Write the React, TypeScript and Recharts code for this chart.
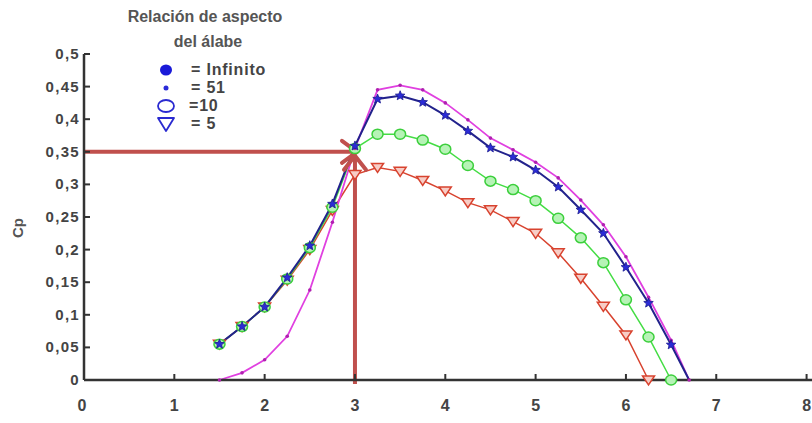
import React from 'react';
import { LineChart, Line, XAxis, YAxis, ReferenceLine, Legend } from 'recharts';

const xTicks = [0, 1, 2, 3, 4, 5, 6, 7, 8];
const yTicks = [0, 0.05, 0.1, 0.15, 0.2, 0.25, 0.3, 0.35, 0.4, 0.45, 0.5];
const yTickLabels = ['0', '0,05', '0,1', '0,15', '0,2', '0,25', '0,3', '0,35', '0,4', '0,45', '0,5'];

const legendTitle = ['Relación de aspecto', 'del álabe'];
const legendLabels = ['= Infinito', '= 51', '=10', '= 5'];

// relación de velocidad en punta (x) y Cp (y), una lista por curva
const tsrInfinito = [1.5, 1.75, 2, 2.25, 2.5, 2.75, 3, 3.25, 3.5, 3.75, 4, 4.25, 4.5, 4.75, 5, 5.25, 5.5, 5.75, 6, 6.25, 6.5, 6.7];
const cpInfinito = [0, 0.011, 0.031, 0.067, 0.138, 0.242, 0.355, 0.445, 0.452, 0.445, 0.425, 0.399, 0.371, 0.353, 0.334, 0.31, 0.276, 0.238, 0.189, 0.127, 0.061, 0];

const tsr51 = [1.5, 1.75, 2, 2.25, 2.5, 2.75, 3, 3.25, 3.5, 3.75, 4, 4.25, 4.5, 4.75, 5, 5.25, 5.5, 5.75, 6, 6.25, 6.5, 6.7];
const cp51 = [0.055, 0.082, 0.112, 0.157, 0.206, 0.27, 0.359, 0.431, 0.436, 0.426, 0.406, 0.382, 0.356, 0.342, 0.322, 0.296, 0.261, 0.225, 0.173, 0.118, 0.054, 0];

const tsr10 = [1.5, 1.75, 2, 2.25, 2.5, 2.75, 3, 3.25, 3.5, 3.75, 4, 4.25, 4.5, 4.75, 5, 5.25, 5.5, 5.75, 6, 6.25, 6.5];
const cp10 = [0.055, 0.082, 0.112, 0.155, 0.203, 0.265, 0.355, 0.377, 0.377, 0.368, 0.354, 0.329, 0.305, 0.292, 0.275, 0.248, 0.218, 0.18, 0.123, 0.066, 0];

const tsr5 = [1.5, 1.75, 2, 2.25, 2.5, 2.75, 3, 3.25, 3.5, 3.75, 4, 4.25, 4.5, 4.75, 5, 5.25, 5.5, 5.75, 6, 6.25];
const cp5 = [0.055, 0.082, 0.112, 0.153, 0.2, 0.26, 0.315, 0.326, 0.32, 0.306, 0.29, 0.272, 0.261, 0.243, 0.225, 0.195, 0.156, 0.113, 0.069, 0];

const markX = 3;
const markCp = 0.35;

const toRows = (xs: number[], ys: number[]) => xs.map((x, i) => ({ x, cp: ys[i] }));

const FONT = '"Liberation Sans", Arial, sans-serif';
const TEXT = '#444';
const AXIS = '#333';
const ARROW = '#c0504d';

const YTick = (props: any) => {
  const { x, y, index } = props;
  return (
    <g>
      <line x1={x} x2={x + 6} y1={y} y2={y} stroke={AXIS} strokeWidth={2} />
      <text x={x - 4} y={y} dy={5} textAnchor="end" fontSize={15} fontWeight="bold" fill={TEXT}
        fontFamily={FONT} letterSpacing={1.3}>
        {yTickLabels[index]}
      </text>
    </g>
  );
};

const XTick = (props: any) => {
  const { x, y, payload } = props;
  return (
    <g>
      {payload.value > 0 && <line x1={x} x2={x} y1={y} y2={y - 6} stroke={AXIS} strokeWidth={2} />}
      <text x={payload.value === 0 ? x - 2 : x} y={y + 31} textAnchor="middle" fontSize={16} fontWeight="bold"
        fill={TEXT} fontFamily={FONT}>
        {payload.value}
      </text>
    </g>
  );
};

const cpLabel = (props: any) => {
  const { viewBox } = props;
  const cx = viewBox.x + 17;
  const cy = viewBox.y + viewBox.height / 2 + 11;
  return (
    <text x={cx} y={cy} transform={`rotate(-90 ${cx} ${cy})`} textAnchor="middle" dominantBaseline="central"
      fontSize={15} fontWeight="bold" fill="#555" fontFamily={FONT}>
      Cp
    </text>
  );
};

const starDot = (props: any) => {
  const { cx, cy, index } = props;
  if (index === cp51.length - 1) return <g key={`s${index}`} />;
  const pts: string[] = [];
  for (let k = 0; k < 10; k++) {
    const r = k % 2 === 0 ? 5 : 2.2;
    const a = (Math.PI / 5) * k - Math.PI / 2;
    pts.push(`${cx + r * Math.cos(a)},${cy + r * Math.sin(a)}`);
  }
  return <polygon key={`s${index}`} points={pts.join(' ')} fill="#2b2bd6" stroke="#1a1a90" strokeWidth={0.8} />;
};

const smallDot = (props: any) => {
  const { cx, cy, index } = props;
  return <circle key={`m${index}`} cx={cx} cy={cy} r={1.8} fill="#b020b0" />;
};

const circleDot = (props: any) => {
  const { cx, cy, index } = props;
  return <ellipse key={`c${index}`} cx={cx} cy={cy} rx={5.5} ry={5} fill="#b6f3b6" stroke="#3ccf3c" strokeWidth={1.5} />;
};

const triDot = (props: any) => {
  const { cx, cy, index } = props;
  return (
    <path key={`t${index}`} d={`M${cx - 6},${cy - 4} L${cx + 6},${cy - 4} L${cx},${cy + 5} Z`}
      fill="#f7cdc6" stroke="#d8432f" strokeWidth={1.5} />
  );
};

const arrowRight = (props: any) => {
  const { x1, y1, x2, y2 } = props;
  return (
    <g>
      <line x1={x1} y1={y1} x2={x2} y2={y2} stroke={ARROW} strokeWidth={4} />
      <path d={`M${x2 - 13},${y2 - 11} L${x2 + 2},${y2} L${x2 - 13},${y2 + 11}`} fill="none" stroke={ARROW}
        strokeWidth={4} strokeLinecap="round" strokeLinejoin="round" />
    </g>
  );
};

const arrowUp = (props: any) => {
  const { x1, y1, x2, y2 } = props;
  return (
    <g>
      <line x1={x1} y1={y1 + 4} x2={x2} y2={y2 + 4} stroke={ARROW} strokeWidth={4} />
      <path d={`M${x2 - 11},${y2 + 18} L${x2},${y2 + 4} L${x2 + 11},${y2 + 18}`} fill="none" stroke={ARROW}
        strokeWidth={4} strokeLinecap="round" strokeLinejoin="round" />
    </g>
  );
};

const renderLegend = () => {
  const rowY = [70, 88, 106, 124];
  return (
    <svg width={300} height={140} style={{ display: 'block' }}>
      <text x={205} y={22} textAnchor="middle" fontSize={16} fontWeight="bold" fill="#555" fontFamily={FONT}>
        {legendTitle[0]}
      </text>
      <text x={208} y={47} textAnchor="middle" fontSize={16} fontWeight="bold" fill="#555" fontFamily={FONT}>
        {legendTitle[1]}
      </text>
      <ellipse cx={166} cy={rowY[0]} rx={6} ry={5.5} fill="#1a1ad8" />
      <circle cx={166} cy={rowY[1]} r={2.5} fill="#2a2ad8" />
      <ellipse cx={166} cy={rowY[2]} rx={8} ry={6} fill="none" stroke="#2a2ad0" strokeWidth={1.8} />
      <path d={`M158,${rowY[3] - 6} L174,${rowY[3] - 6} L166,${rowY[3] + 7} Z`} fill="none" stroke="#2a2ad0"
        strokeWidth={1.8} strokeLinejoin="round" />
      {legendLabels.map((t, i) => (
        <text key={t} x={i === 2 ? 189 : 191} y={rowY[i] + 5} fontSize={16} fontWeight="bold" fill={TEXT}
          fontFamily={FONT} letterSpacing={0.8}>
          {t}
        </text>
      ))}
    </svg>
  );
};

export default function App() {
  return (
    <div style={{ position: 'absolute', left: 0, top: 0, width: 812, height: 423, background: '#fff' }}>
      <LineChart width={812} height={423} margin={{ top: 54, right: 0, bottom: 0, left: 0 }}>
        <XAxis
          type="number"
          dataKey="x"
          domain={[0, 8.06]}
          ticks={xTicks}
          interval={0}
          height={43}
          tickSize={0}
          tickMargin={0}
          tick={<XTick />}
          axisLine={{ stroke: AXIS, strokeWidth: 2.5 }}
          allowDataOverflow
        />
        <YAxis
          type="number"
          domain={[0, 0.5]}
          ticks={yTicks}
          interval={0}
          width={84}
          tickSize={0}
          tickMargin={0}
          tick={<YTick />}
          axisLine={{ stroke: AXIS, strokeWidth: 2.5 }}
          label={cpLabel}
        />
        <Legend
          layout="vertical"
          align="center"
          verticalAlign="middle"
          wrapperStyle={{ left: 0, top: 0, width: 300, height: 140 }}
          content={renderLegend}
        />
        <Line data={toRows(tsr5, cp5)} dataKey="cp" name="5" stroke="#d8432f" strokeWidth={1.5}
          dot={triDot} activeDot={false} isAnimationActive={false} />
        <Line data={toRows(tsr10, cp10)} dataKey="cp" name="10" stroke="#44dd44" strokeWidth={1.5}
          dot={circleDot} activeDot={false} isAnimationActive={false} />
        <Line data={toRows(tsrInfinito, cpInfinito)} dataKey="cp" name="Infinito" stroke="#e040e0" strokeWidth={1.8}
          dot={smallDot} activeDot={false} isAnimationActive={false} />
        <Line data={toRows(tsr51, cp51)} dataKey="cp" name="51" stroke="#22228c" strokeWidth={2}
          dot={starDot} activeDot={false} isAnimationActive={false} />
        <ReferenceLine segment={[{ x: 0, y: markCp }, { x: markX, y: markCp }]} shape={arrowRight} />
        <ReferenceLine segment={[{ x: markX, y: 0 }, { x: markX, y: markCp }]} shape={arrowUp} />
      </LineChart>
    </div>
  );
}
